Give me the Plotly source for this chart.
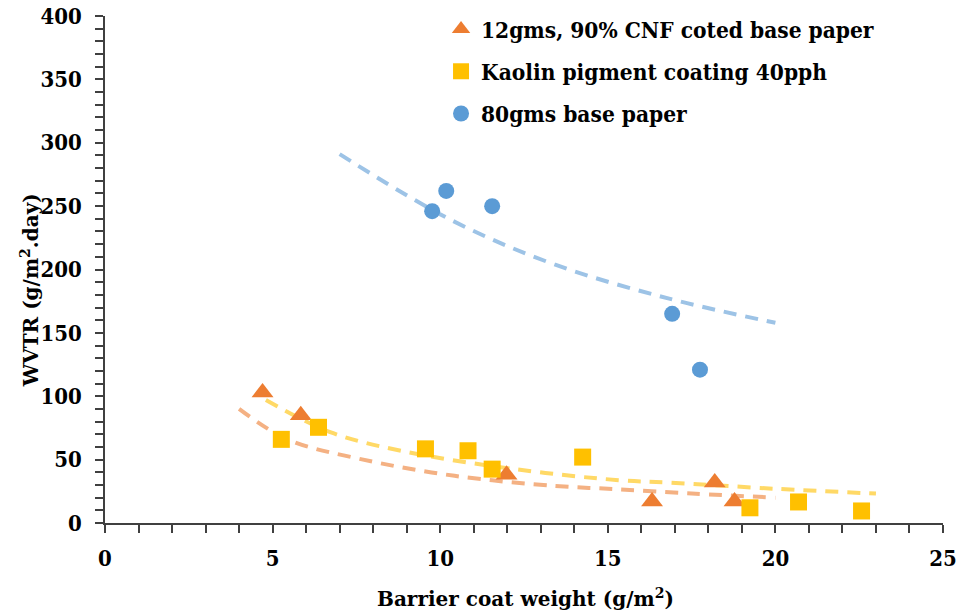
import plotly.graph_objects as go

# Measured points: barrier coat weight (g/m2) vs WVTR (g/m2.day)
cnf_x = [4.7, 5.84, 11.98, 16.32, 18.19, 18.78]
cnf_y = [103, 85, 38, 17, 32, 17]

kaolin_x = [5.26, 6.37, 9.56, 10.83, 11.55, 14.25, 19.24, 20.69, 22.57]
kaolin_y = [66, 75.5, 58.5, 57, 42.5, 52, 12, 16.6, 9.5]

base_x = [9.76, 10.18, 11.55, 16.92, 17.75]
base_y = [246, 262, 250, 165, 121]

# Trend curves (points along each dashed trendline)
cnf_trend_x = [4.0, 5.44, 7.63, 10.43, 13.42, 15.22, 17.5, 20.0]
cnf_trend_y = [90, 66, 50.4, 37.2, 29.3, 26.7, 23.2, 20.0]

kaolin_trend_x = [4.8, 6.74, 8.83, 12.22, 15.32, 16.82, 20.0, 23.0]
kaolin_trend_y = [97, 71.5, 57, 42.5, 33.8, 31.9, 27.0, 23.2]

base_trend_x = [7.0, 10.33, 13.41, 16.83, 20.0]
base_trend_y = [291, 239, 204, 177, 158]

legend_names = [
    "12gms, 90% CNF coted base paper",
    "Kaolin pigment coating 40pph",
    "80gms base paper",
]

COND = "DejaVu Serif Condensed, DejaVu Serif, serif"
SERIF = "DejaVu Serif, serif"
AXIS = "#404040"
dash = "13px,9px"

fig = go.Figure()

# dashed trendlines (drawn beneath the markers)
for tx, ty, col in [
    (cnf_trend_x, cnf_trend_y, "#F4B183"),
    (kaolin_trend_x, kaolin_trend_y, "#FFD966"),
    (base_trend_x, base_trend_y, "#9DC3E6"),
]:
    fig.add_trace(go.Scatter(
        x=tx, y=ty, mode="lines", showlegend=False, hoverinfo="skip",
        line=dict(color=col, width=4, dash=dash, shape="spline"),
    ))

fig.add_trace(go.Scatter(
    x=cnf_x, y=cnf_y, mode="markers", name=legend_names[0], legendgroup="a",
    marker=dict(symbol="triangle-up", size=19, color="#ED7D31"), cliponaxis=False,
))
fig.add_trace(go.Scatter(
    x=kaolin_x, y=kaolin_y, mode="markers", name=legend_names[1], legendgroup="b",
    marker=dict(symbol="square", size=17, color="#FFC000"), cliponaxis=False,
))
fig.add_trace(go.Scatter(
    x=base_x, y=base_y, mode="markers", name=legend_names[2], legendgroup="c",
    marker=dict(symbol="circle", size=16, color="#5B9BD5"), cliponaxis=False,
))

tickfont = dict(family=COND, size=22, color="#000000", weight="bold")

fig.update_layout(
    width=959, height=615,
    margin=dict(l=105, r=16, t=16, b=92, autoexpand=False),
    paper_bgcolor="white", plot_bgcolor="white",
    font=dict(family=COND, size=22, color="#000000", weight="bold"),
    showlegend=True,
    legend=dict(
        x=0.401, y=1.016, xanchor="left", yanchor="top",
        font=dict(family=COND, size=22.5, color="#000000", weight="bold"),
        bgcolor="rgba(0,0,0,0)", tracegroupgap=10, traceorder="grouped",
    ),
    xaxis=dict(
        range=[0, 25], dtick=5, showgrid=False, zeroline=False,
        showline=True, linecolor=AXIS, linewidth=1.5,
        ticks="outside", ticklen=8, tickwidth=1.5, tickcolor=AXIS,
        minor=dict(dtick=1, ticks="outside", ticklen=8, tickwidth=1.5, tickcolor=AXIS),
        tickfont=tickfont, ticklabelstandoff=7,
    ),
    yaxis=dict(
        range=[0, 400], dtick=50, showgrid=False, zeroline=False,
        showline=True, linecolor=AXIS, linewidth=1.5,
        ticks="outside", ticklen=8, tickwidth=1.5, tickcolor=AXIS,
        minor=dict(dtick=10, ticks="outside", ticklen=8, tickwidth=1.5, tickcolor=AXIS),
        tickfont=tickfont, ticklabelstandoff=9,
    ),
    annotations=[
        dict(text="<b>Barrier coat weight (g/m<sup>2</sup>)</b>", xref="paper", yref="paper",
             x=0.502, y=-0.148, xanchor="center", yanchor="middle", showarrow=False,
             font=dict(family=SERIF, size=20, color="#000000")),
        dict(text="<b>WVTR (g/m<sup>2</sup>.day)</b>", xref="paper", yref="paper",
             x=-0.0895, y=0.459, xanchor="center", yanchor="middle", showarrow=False,
             textangle=-90,
             font=dict(family=SERIF, size=20, color="#000000")),
    ],
)

fig.write_html("out.html")
